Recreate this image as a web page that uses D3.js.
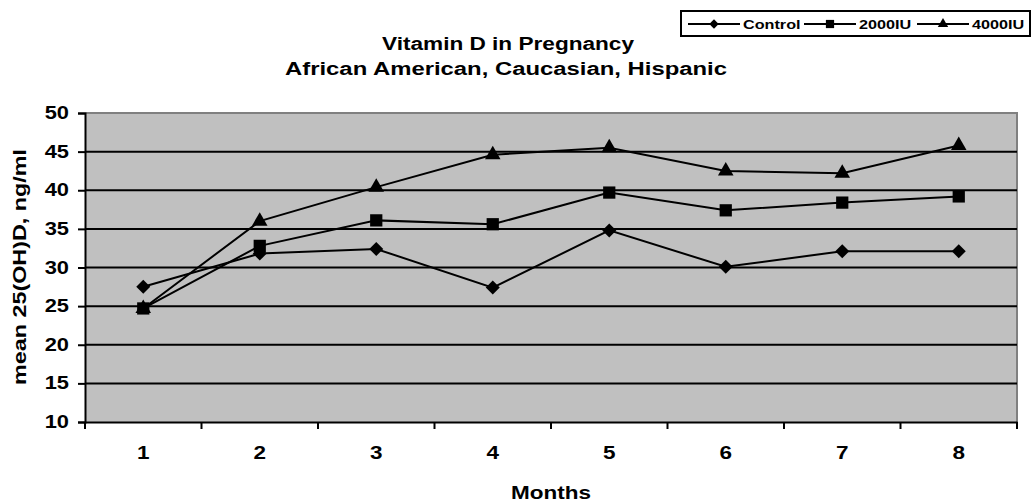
<!DOCTYPE html>
<html>
<head>
<meta charset="utf-8">
<script src="https://cdn.jsdelivr.net/npm/d3@7"></script>
<style>
  body { margin: 0; background: #fff; }
  svg { display: block; font-family: "Liberation Sans", Arial, sans-serif; }
</style>
</head>
<body>
<div id="chart"></div>
<script>
// vitamin D chart

var months = [1, 2, 3, 4, 5, 6, 7, 8];
var control = [27.5, 31.8, 32.4, 27.4, 34.8, 30.1, 32.1, 32.1];
var iu2000 = [24.7, 32.8, 36.1, 35.6, 39.7, 37.4, 38.4, 39.2];
var iu4000 = [24.7, 36.0, 40.4, 44.6, 45.5, 42.5, 42.2, 45.8];
var yTicks = [10, 15, 20, 25, 30, 35, 40, 45, 50];
var seriesNames = ["Control", "2000IU", "4000IU"];

var w_width = 1032, w_height = 504;
var margin = {top: 113, right: 15, bottom: 82, left: 85};
var sx = 1.25;   // text in the original is stretched sideways

var svg = d3.select("#chart").append("svg")
  .attr("width", w_width)
  .attr("height", w_height);

var x = d3.scaleBand().domain(months).range([margin.left, w_width - margin.right]);
var y = d3.scaleLinear().domain([10, 50]).range([w_height - margin.bottom, margin.top]);

// square-ish diamond like excel's marker
var diamond = {
  draw: function(ctx, size) {
    var r = Math.sqrt(size / 2);
    ctx.moveTo(0, -r); ctx.lineTo(r, 0); ctx.lineTo(0, r); ctx.lineTo(-r, 0); ctx.closePath();
  }
};

var series = [
  {name: seriesNames[0], values: control, sym: diamond, size: 98},
  {name: seriesNames[1], values: iu2000, sym: d3.symbolSquare, size: 150},
  {name: seriesNames[2], values: iu4000, sym: d3.symbolTriangle, size: 105}
];

function bold(sel, fs) {
  sel.attr("font-size", fs).attr("font-weight", "bold")
    .attr("font-family", "Liberation Sans, Arial, sans-serif").attr("fill", "#000");
}

// plot area
svg.append("rect")
  .attr("x", margin.left).attr("y", margin.top)
  .attr("width", w_width - margin.right - margin.left)
  .attr("height", y(10) - y(50))
  .attr("fill", "#c0c0c0");

// border top/right
svg.append("path")
  .attr("d", "M" + margin.left + "," + y(50) + "H" + (w_width - margin.right) + "V" + y(10))
  .attr("fill", "none").attr("stroke", "#808080").attr("stroke-width", 2);

// gridlines
svg.append("g").selectAll("line")
  .data(yTicks.filter(function(d) { return d > 10 && d < 50; }))
  .enter().append("line")
  .attr("x1", margin.left).attr("x2", w_width - margin.right)
  .attr("y1", function(d) { return y(d); }).attr("y2", function(d) { return y(d); })
  .attr("stroke", "#000").attr("stroke-width", 2);

// y axis
var yAxis = svg.append("g")
  .attr("transform", "translate(" + margin.left + ",0)")
  .call(d3.axisLeft(y).tickValues(yTicks).tickSize(7).tickPadding(4));
yAxis.select(".domain").attr("stroke-width", 2);
yAxis.selectAll(".tick line").attr("stroke-width", 2);
yAxis.selectAll("text").call(bold, 17.5)
  .attr("x", -16 / sx).attr("transform", "scale(" + sx + ",1)");

// x axis
var xAxis = svg.append("g")
  .attr("transform", "translate(0," + y(10) + ")")
  .call(d3.axisBottom(x).tickSize(0).tickPadding(24));
xAxis.select(".domain").attr("stroke-width", 2);
xAxis.selectAll("text").call(bold, 18).attr("transform", "scale(" + sx + ",1)");
// tick marks between categories
xAxis.selectAll(".sep")
  .data(months.concat([9]))
  .enter().append("line").attr("class", "sep")
  .attr("x1", function(d, i) { return margin.left + i * x.step(); })
  .attr("x2", function(d, i) { return margin.left + i * x.step(); })
  .attr("y1", 0).attr("y2", 7)
  .attr("stroke", "#000").attr("stroke-width", 2);

// lines + markers
var line = d3.line()
  .x(function(d, i) { return x(months[i]) + x.bandwidth() / 2; })
  .y(function(d) { return y(d); });

series.forEach(function(s) {
  svg.append("path")
    .attr("d", line(s.values))
    .attr("fill", "none").attr("stroke", "#000").attr("stroke-width", 2);
  svg.append("g").selectAll("path")
    .data(s.values)
    .enter().append("path")
    .attr("d", d3.symbol().type(s.sym).size(s.size))
    .attr("transform", function(d, i) {
      return "translate(" + (x(months[i]) + x.bandwidth() / 2) + "," + y(d) + ")";
    })
    .attr("fill", "#000");
});

// titles
svg.append("text").text("Vitamin D in Pregnancy")
  .attr("x", 508).attr("y", 50).attr("text-anchor", "middle")
  .attr("textLength", 252).attr("lengthAdjust", "spacingAndGlyphs")
  .call(bold, 18);
svg.append("text").text("African American, Caucasian, Hispanic")
  .attr("x", 506).attr("y", 75).attr("text-anchor", "middle")
  .attr("textLength", 442).attr("lengthAdjust", "spacingAndGlyphs")
  .call(bold, 18);

svg.append("text").text("Months")
  .attr("x", 551).attr("y", 499).attr("text-anchor", "middle")
  .attr("textLength", 80).attr("lengthAdjust", "spacingAndGlyphs")
  .call(bold, 18);

svg.append("text").text("mean 25(OH)D, ng/ml")
  .attr("transform", "translate(26,267) rotate(-90)").attr("text-anchor", "middle")
  .attr("textLength", 236).attr("lengthAdjust", "spacingAndGlyphs")
  .call(bold, 18);

// legend
var legend = svg.append("g");
legend.append("rect")
  .attr("x", 681).attr("y", 11).attr("width", 349).attr("height", 25)
  .attr("fill", "#fff").attr("stroke", "#000").attr("stroke-width", 2);

var legPos = [688, 804, 917];
var legItem = legend.selectAll(".item")
  .data(series)
  .enter().append("g").attr("class", "item")
  .attr("transform", function(d, i) { return "translate(" + legPos[i] + ",24)"; });
legItem.append("line")
  .attr("x1", 0).attr("x2", 52).attr("y1", 0).attr("y2", 0)
  .attr("stroke", "#000").attr("stroke-width", 2);
legItem.append("path")
  .attr("d", function(d) { return d3.symbol().type(d.sym).size(d.size * 0.45)(); })
  .attr("transform", "translate(26,0)")
  .attr("fill", "#000");
legItem.append("text")
  .text(function(d) { return d.name; })
  .attr("x", 55 / 1.2).attr("y", 4.5)
  .attr("transform", "scale(1.2,1)")
  .call(bold, 13.5);
</script>
</body>
</html>
